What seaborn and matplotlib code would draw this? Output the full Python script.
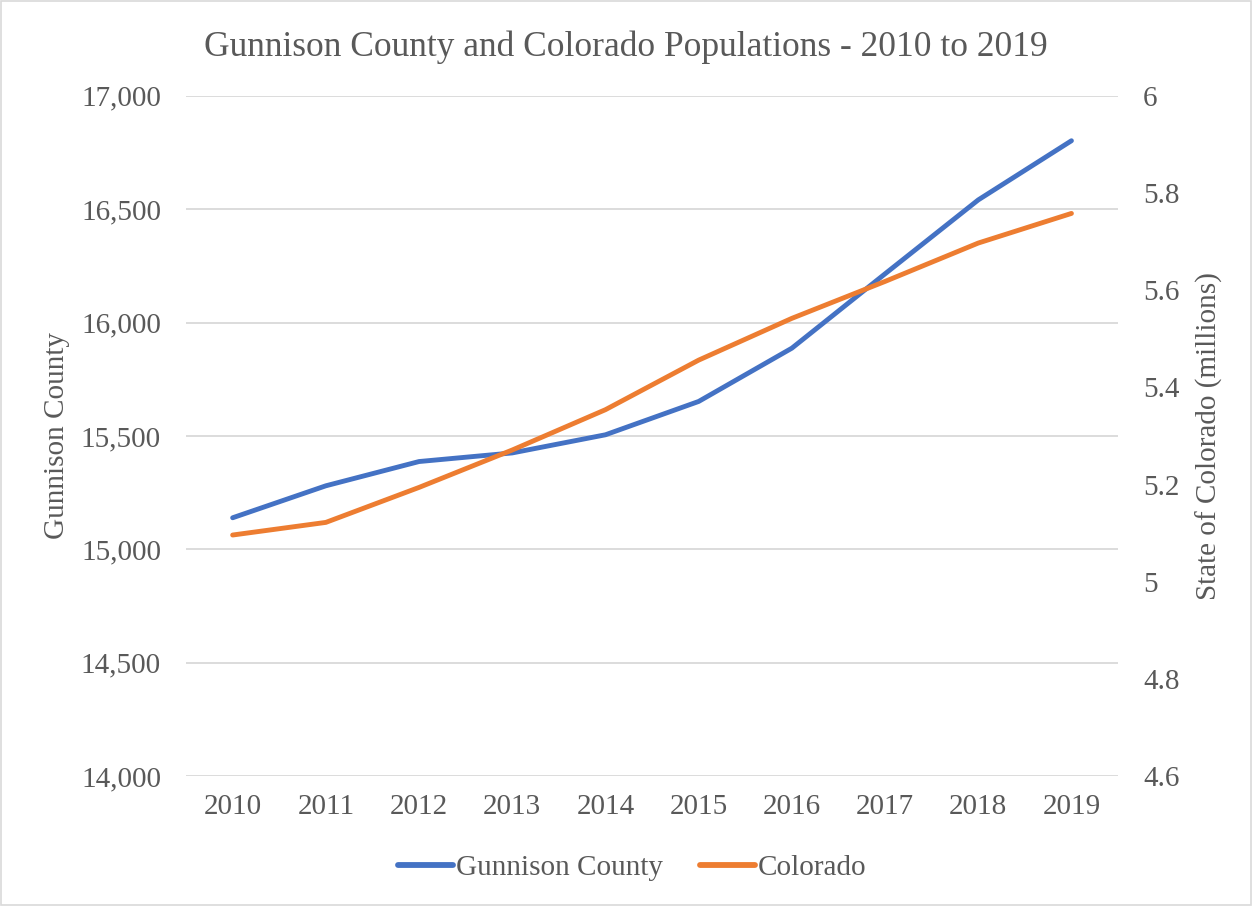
import matplotlib.pyplot as plt
import matplotlib.ticker as mticker
import pandas as pd
import seaborn as sns

years = [2010, 2011, 2012, 2013, 2014, 2015, 2016, 2017, 2018, 2019]
gunnison = [15139, 15280, 15387, 15425, 15505, 15652, 15887, 16215, 16541, 16802]
colorado = [5.096, 5.122, 5.194, 5.271, 5.354, 5.456, 5.542, 5.618, 5.697, 5.758]

df = pd.DataFrame({'year': years, 'Gunnison County': gunnison, 'Colorado': colorado})

sns.set_theme(style='white')
plt.rcParams['font.family'] = ['Liberation Serif', 'DejaVu Serif']
grey = '#595959'

fig = plt.figure(figsize=(12.52, 9.06), dpi=100)
ax = fig.add_axes([0.1486, 0.1435, 0.893 - 0.1486, 0.8942 - 0.1435])
ax2 = ax.twinx()

sns.lineplot(data=df, x='year', y='Gunnison County', ax=ax, color='#4472C4',
             linewidth=3.5, label='Gunnison County', legend=False, zorder=3)
sns.lineplot(data=df, x='year', y='Colorado', ax=ax2, color='#ED7D31',
             linewidth=3.5, label='Colorado', legend=False, zorder=3)

ax.set_xlim(2009.5, 2019.5)
ax.set_ylim(14000, 17000)
ax2.set_ylim(4.6, 6.0)
ax.set_xticks(years)
ax.set_yticks(range(14000, 17001, 500))
ax2.set_yticks([4.6, 4.8, 5.0, 5.2, 5.4, 5.6, 5.8, 6.0])
ax.yaxis.set_major_formatter(mticker.FuncFormatter(lambda v, p: f'{v:,.0f}'))
ax2.yaxis.set_major_formatter(mticker.FuncFormatter(lambda v, p: f'{v:g}'))

ax.grid(axis='y', color='#d9d9d9', linewidth=1.3)
ax.grid(axis='x', visible=False)
ax2.grid(False)
for a in (ax, ax2):
    for s in a.spines.values():
        s.set_visible(False)
    a.tick_params(length=0, labelsize=21, colors=grey)
ax.tick_params(axis='y', pad=18)
ax2.tick_params(axis='y', pad=18)
ax.tick_params(axis='x', pad=13)

ax.set_xlabel('')
ax.set_ylabel('Gunnison County', fontsize=21, color=grey, labelpad=8)
ax2.set_ylabel('State of Colorado (millions)', fontsize=21, color=grey, labelpad=12)

fig.suptitle('Gunnison County and Colorado Populations - 2010 to 2019',
             fontsize=25.5, color=grey, y=0.948, va='center')

h1, l1 = ax.get_legend_handles_labels()
h2, l2 = ax2.get_legend_handles_labels()
leg = fig.legend(h1 + h2, l1 + l2, loc='center', bbox_to_anchor=(0.505, 0.042), ncol=2,
                 frameon=False, fontsize=21, handlelength=1.9, handletextpad=0.1,
                 columnspacing=1.25)
for line in leg.get_lines():
    line.set_linewidth(4.2)
for t in leg.get_texts():
    t.set_color(grey)

fig.patches.append(plt.Rectangle((0.001, 0.001), 0.998, 0.998, transform=fig.transFigure,
                                 fill=False, edgecolor='#d9d9d9', linewidth=1.2))

fig.savefig('out.png', dpi=100)
